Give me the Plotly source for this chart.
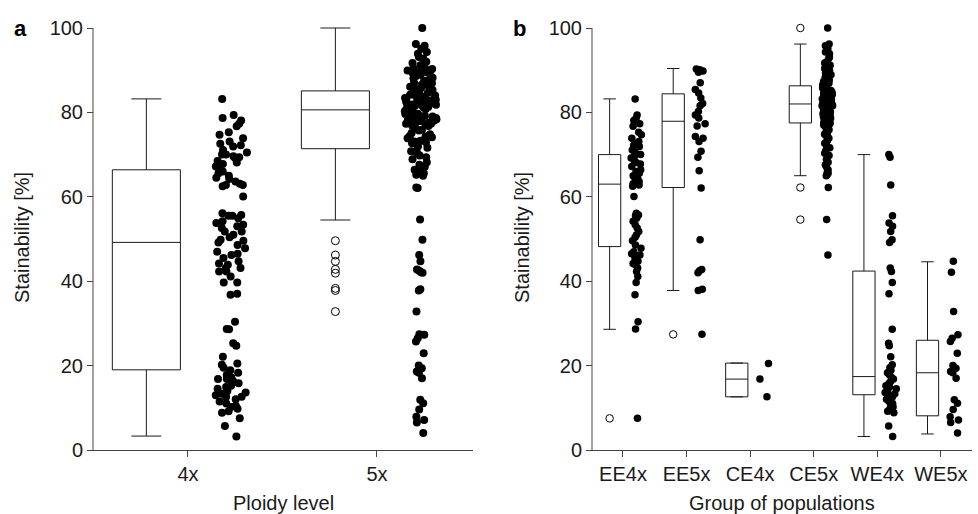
import plotly.graph_objects as go

# ---------------- data ----------------
groups = ["EE4x", "EE5x", "CE4x", "CE5x", "WE4x", "WE5x"]

ee4x = [83.2, 79.4, 78.7, 78.1, 77.3, 76.7, 75.3, 74.7, 73.9, 73.1, 72.6, 72.2, 71.9,
        71.1, 70.5, 70.0, 69.6, 69.2, 68.5, 68.1, 67.8, 67.2, 66.4, 66.0, 65.6, 65.0,
        64.5, 64.2, 63.6, 63.1, 62.8, 62.5, 60.1, 56.1, 55.7, 55.5, 54.9, 54.2, 53.4,
        52.6, 51.8, 51.0, 50.4, 49.6, 48.6, 47.8, 47.0, 46.5, 46.2, 45.5, 44.7, 44.2,
        43.9, 43.1, 42.3, 41.1, 39.7, 36.8, 30.4, 28.7, 7.5]
ee5x = [90.3, 90.1, 89.8, 89.5, 87.0, 85.4, 84.6, 83.4, 82.1, 81.6, 80.2, 79.4, 78.7,
        77.3, 76.8, 74.3, 73.9, 73.1, 70.8, 69.4, 66.2, 62.1, 49.8, 42.8, 42.5, 42.0,
        38.1, 37.8, 27.4]
ce4x = [20.5, 16.8, 12.6]
ce5x = [100.0, 96.2, 95.8, 95.1, 94.3, 93.9, 93.1, 92.8, 92.0, 91.7, 91.2, 90.6, 90.4,
        89.9, 89.5, 89.4, 88.9, 88.6, 88.2, 88.1, 87.7, 87.5, 87.3, 86.9, 86.8, 86.5,
        86.4, 86.3, 86.1, 85.9, 85.8, 85.5, 85.3, 85.2, 84.9, 84.8, 84.6, 84.3, 84.2,
        84.0, 83.8, 83.7, 83.5, 83.3, 83.2, 83.0, 82.9, 82.7, 82.6, 82.5, 82.3, 82.2,
        82.1, 82.0, 81.9, 81.8, 81.6, 81.5, 81.3, 81.1, 80.9, 80.8, 80.6, 80.3, 80.1,
        79.9, 79.7, 79.6, 79.2, 79.0, 78.9, 78.6, 78.4, 78.3, 78.0, 77.9, 77.7, 77.6,
        77.5, 77.3, 77.0, 76.8, 76.2, 75.9, 75.7, 75.1, 74.8, 74.4, 74.1, 73.9, 73.3,
        72.9, 72.7, 72.0, 71.6, 70.9, 70.3, 69.8, 68.9, 68.2, 67.6, 67.1, 66.4, 65.9,
        65.6, 65.2, 65.0, 62.2, 54.6, 46.2]
we4x = [70.0, 69.4, 62.8, 55.5, 53.8, 53.0, 51.8, 49.8, 49.2, 43.1, 42.3, 39.7, 37.0,
        28.6, 25.3, 24.7, 22.1, 20.2, 19.5, 18.9, 18.3, 17.8, 17.2, 16.8, 16.3, 15.8,
        15.2, 14.9, 14.5, 14.0, 13.6, 13.3, 13.0, 12.6, 12.0, 11.5, 11.0, 10.5, 10.2,
        9.8, 9.2, 8.8, 5.7, 3.2]
we5x = [44.7, 42.1, 32.8, 27.3, 26.5, 25.7, 22.9, 20.0, 19.4, 18.6, 18.3, 17.0, 11.9,
        11.1, 9.6, 7.9, 7.1, 6.5, 4.0]

# box statistics for panel b (as drawn)
b_q1 = [48.2, 62.2, 12.6, 77.5, 13.1, 8.1]
b_median = [63.0, 77.9, 16.8, 82.0, 17.4, 18.3]
b_q3 = [70.0, 84.4, 20.6, 86.3, 42.4, 26.0]
b_low = [28.6, 37.8, 12.6, 65.0, 3.2, 3.8]
b_high = [83.2, 90.4, 20.6, 96.2, 70.0, 44.6]
b_outliers = [[7.5], [27.4], [], [100.0, 62.2, 54.6], [], []]

# panel a: ploidy levels (pooled groups)
ploidy = ["4x", "5x"]
pts_4x = ee4x + ce4x + we4x
pts_5x = ee5x + ce5x + we5x
a_q1 = [19.0, 71.4]
a_median = [49.2, 80.6]
a_q3 = [66.4, 85.1]
a_low = [3.3, 54.5]
a_high = [83.2, 100.0]
a_outliers = [[], [49.6, 46.2, 44.7, 42.8, 41.9, 38.3, 37.8, 32.8]]

y_ticks = [0, 20, 40, 60, 80, 100]

# ---------------- figure ----------------
FONT = "Liberation Sans, Arial, sans-serif"
W, H = 978, 514
AX = "#444444"
TXT = "#1a1a1a"

fig = go.Figure()


def add_panel(xa, ya, cats, pts, q1, med, q3, lo, hi, outs,
              box_off, box_w, cap, pt_off, pt_w, msize):
    for i, cat in enumerate(cats):
        fig.add_trace(go.Box(
            x=[i + box_off], q1=[q1[i]], median=[med[i]], q3=[q3[i]],
            lowerfence=[lo[i]], upperfence=[hi[i]],
            width=box_w, whiskerwidth=cap,
            fillcolor="white", line=dict(color="#1a1a1a", width=1),
            boxpoints=False, xaxis=xa, yaxis=ya, showlegend=False, name=cat))
        if outs[i]:
            fig.add_trace(go.Scatter(
                x=[i + box_off] * len(outs[i]), y=outs[i], mode="markers",
                marker=dict(symbol="circle-open", size=msize, color="black",
                            line=dict(width=1)),
                cliponaxis=False, xaxis=xa, yaxis=ya, showlegend=False))
        fig.add_trace(go.Box(
            y=pts[i], x0=i + pt_off, width=pt_w,
            boxpoints="all", jitter=1, pointpos=0,
            fillcolor="rgba(0,0,0,0)", line=dict(color="rgba(0,0,0,0)", width=0),
            marker=dict(color="black", size=msize, opacity=1),
            whiskerwidth=0, xaxis=xa, yaxis=ya, showlegend=False, name=cat))


add_panel("x", "y", ploidy, [pts_4x, pts_5x], a_q1, a_median, a_q3, a_low, a_high,
          a_outliers, -0.22, 0.36, 0.44, 0.23, 0.17, 8)
add_panel("x2", "y2", groups, [ee4x, ee5x, ce4x, ce5x, we4x, we5x], b_q1, b_median,
          b_q3, b_low, b_high, b_outliers, -0.21, 0.35, 0.56, 0.215, 0.19, 7.5)

Y0 = (H - 450) / H
Y1 = (H - (450 - 102 * 4.22)) / H
ax_common = dict(showgrid=False, zeroline=False, ticks="outside", ticklen=6,
                 tickwidth=1, tickcolor=AX, linecolor=AX, linewidth=1,
                 automargin=False,
                 tickfont=dict(family=FONT, size=20, color=TXT))

# x-axis lines start a few px left of the y axes, as in the original
dom_a = [87 / W, 473 / W]
dom_b = [587 / W, 972 / W]
yax_a = 93 / W
yax_b = 592 / W

fig.update_layout(
    template="none",
    width=W, height=H, margin=dict(l=0, r=0, t=0, b=0, pad=0), autosize=False,
    paper_bgcolor="white", plot_bgcolor="white", boxmode="overlay",
    xaxis=dict(domain=dom_a, range=[-0.534, 1.508], tickvals=[0, 1],
               ticktext=ploidy, showline=True, anchor="y", **ax_common),
    yaxis=dict(domain=[Y0, Y1], range=[0, 102], tickvals=y_ticks, showline=False,
               anchor="free", position=yax_a, **ax_common),
    xaxis2=dict(domain=dom_b, range=[-0.566, 5.49], tickvals=list(range(6)),
                ticktext=groups, showline=True, anchor="y2", **ax_common),
    yaxis2=dict(domain=[Y0, Y1], range=[0, 102], tickvals=y_ticks, showline=False,
                anchor="free", position=yax_b, **ax_common),
    shapes=[
        dict(type="line", xref="paper", yref="y", x0=yax_a, x1=yax_a, y0=0, y1=100,
             line=dict(color=AX, width=1)),
        dict(type="line", xref="paper", yref="y2", x0=yax_b, x1=yax_b, y0=0, y1=100,
             line=dict(color=AX, width=1)),
    ],
    annotations=[
        dict(text="<b>a</b>", x=12 / W, y=(H - 28) / H, xref="paper", yref="paper",
             xanchor="left", yanchor="middle", showarrow=False,
             font=dict(family=FONT, size=22, color="black")),
        dict(text="<b>b</b>", x=511 / W, y=(H - 28) / H, xref="paper", yref="paper",
             xanchor="left", yanchor="middle", showarrow=False,
             font=dict(family=FONT, size=22, color="black")),
        dict(text="Stainability [%]", x=22 / W, y=(H - 238) / H, xref="paper",
             yref="paper", textangle=-90, xanchor="center", yanchor="middle",
             showarrow=False, font=dict(family=FONT, size=20, color=TXT)),
        dict(text="Stainability [%]", x=522 / W, y=(H - 238) / H, xref="paper",
             yref="paper", textangle=-90, xanchor="center", yanchor="middle",
             showarrow=False, font=dict(family=FONT, size=20, color=TXT)),
        dict(text="Ploidy level", x=283 / W, y=(H - 503) / H, xref="paper",
             yref="paper", xanchor="center", yanchor="middle", showarrow=False,
             font=dict(family=FONT, size=20, color=TXT)),
        dict(text="Group of populations", x=782 / W, y=(H - 503) / H, xref="paper",
             yref="paper", xanchor="center", yanchor="middle", showarrow=False,
             font=dict(family=FONT, size=20, color=TXT)),
    ],
)

fig.write_html("out.html", config={"displayModeBar": False, "responsive": False},
               post_script="document.body.style.margin='0';"
                           "document.body.style.overflow='hidden';")
